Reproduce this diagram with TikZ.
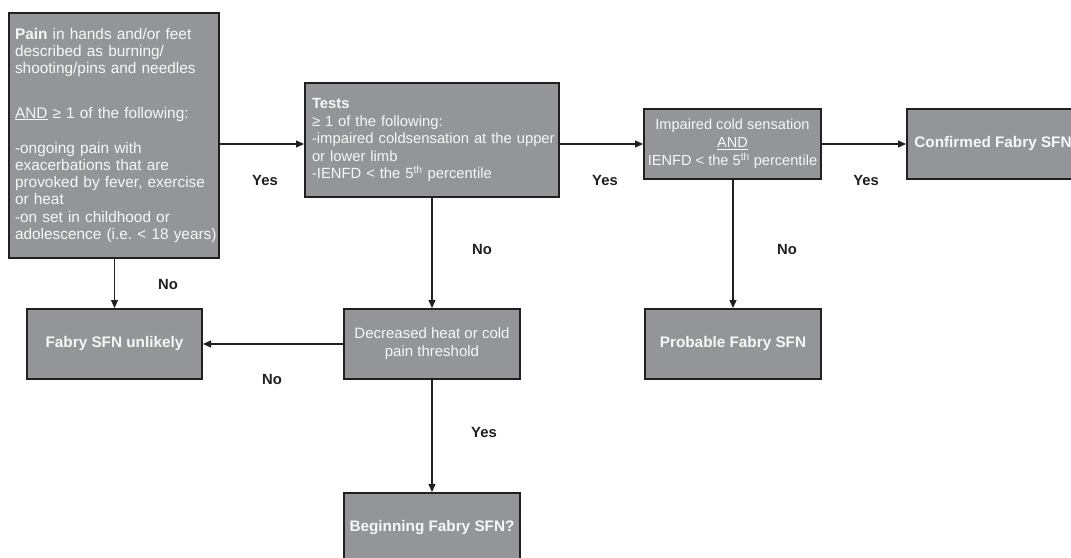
\documentclass[tikz,border=0pt]{standalone}
\usepackage{fontspec}
\setmainfont{Liberation Sans}
\usetikzlibrary{arrows.meta}
\definecolor{boxgray}{HTML}{939598}
\definecolor{edgecol}{HTML}{231F20}
\definecolor{txtcol}{HTML}{F7F7F7}
\frenchspacing
\begin{document}
\begin{tikzpicture}[x=1pt,y=-1pt,
  box/.style={draw=edgecol, line width=2pt, fill=boxgray, text=txtcol, inner sep=0pt,
    font=\fontsize{14.8}{17.5}\selectfont},
  bbox/.style={box, font=\fontsize{15.3}{17.5}\selectfont\bfseries},
  arr/.style={draw=edgecol, line width=1.2pt, -{Triangle[length=8pt,width=7pt]}},
  lab/.style={font=\fontsize{14.8}{17.5}\selectfont\bfseries, text=edgecol, inner sep=0pt}]
\useasboundingbox (0,0) rectangle (1071,557);
\clip (0,0) rectangle (1071,557);

% boxes
\node[box, minimum width=210pt, minimum height=245pt, text width=198pt, align=left,
  font=\fontsize{15.4}{17.2}\selectfont] (A) at (114,135.5)
  {\textbf{Pain} in hands and/or feet\\
   described as burning/\\
   shooting/pins and needles\\[27pt]
   \underline{AND} ≥ 1 of the following:\\[18pt]
   -ongoing pain with\\
   exacerbations that are\\
   provoked by fever, exercise\\
   or heat\\
   -on set in childhood or\\
   \mbox{adolescence (i.e. < 18 years)}};

\node[box, minimum width=254pt, minimum height=114pt, text width=240pt, align=left] (T) at (432,140)
  {\textbf{Tests}\\
   ≥ 1 of the following:\\
   \mbox{-impaired coldsensation at the upper}\\
   or lower limb\\
   -IENFD < the 5\textsuperscript{th} percentile};

\node[box, minimum width=177pt, minimum height=70pt, align=center,
  font=\fontsize{14.6}{17.8}\selectfont] (I) at (732.5,144)
  {Impaired cold sensation\\ \underline{AND}\\ IENFD < the 5\textsuperscript{th} percentile};

\node[bbox, minimum width=172pt, minimum height=70pt] (C) at (993,144) {Confirmed Fabry SFN};

\node[bbox, minimum width=175pt, minimum height=70pt] (U) at (114.5,344) {Fabry SFN unlikely};

\node[box, minimum width=176pt, minimum height=70pt, align=center,
  font=\fontsize{15}{17.8}\selectfont] (D) at (432,344)
  {Decreased heat or cold\\ pain threshold};

\node[bbox, minimum width=176pt, minimum height=70pt] (P) at (733,344) {Probable Fabry SFN};

\node[bbox, minimum width=176pt, minimum height=70pt] (B) at (432,528) {Beginning Fabry SFN?};

% connectors
\draw[arr] (A.east |- I.west) -- (T.west |- I.west);
\draw[arr] (T.east |- I.west) -- (I.west);
\draw[arr] (I.east) -- (C.west);
\draw[arr] (A.south -| U.north) -- (U.north);
\draw[arr] (T.south) -- (D.north);
\draw[arr] (I.south -| P.north) -- (P.north);
\draw[arr] (D.west) -- (U.east);
\draw[arr] (D.south) -- (B.north);

% labels
\node[lab] (y1) at (265,180) {Yes};
\node[lab] (y2) at (605,180) {Yes};
\node[lab] (y3) at (866,180) {Yes};
\node[lab] (n1) at (168,284) {No};
\node[lab] (n2) at (482,249) {No};
\node[lab] (n3) at (787,249) {No};
\node[lab] (n4) at (272,379) {No};
\node[lab] (y4) at (484,432) {Yes};
\end{tikzpicture}
\end{document}
